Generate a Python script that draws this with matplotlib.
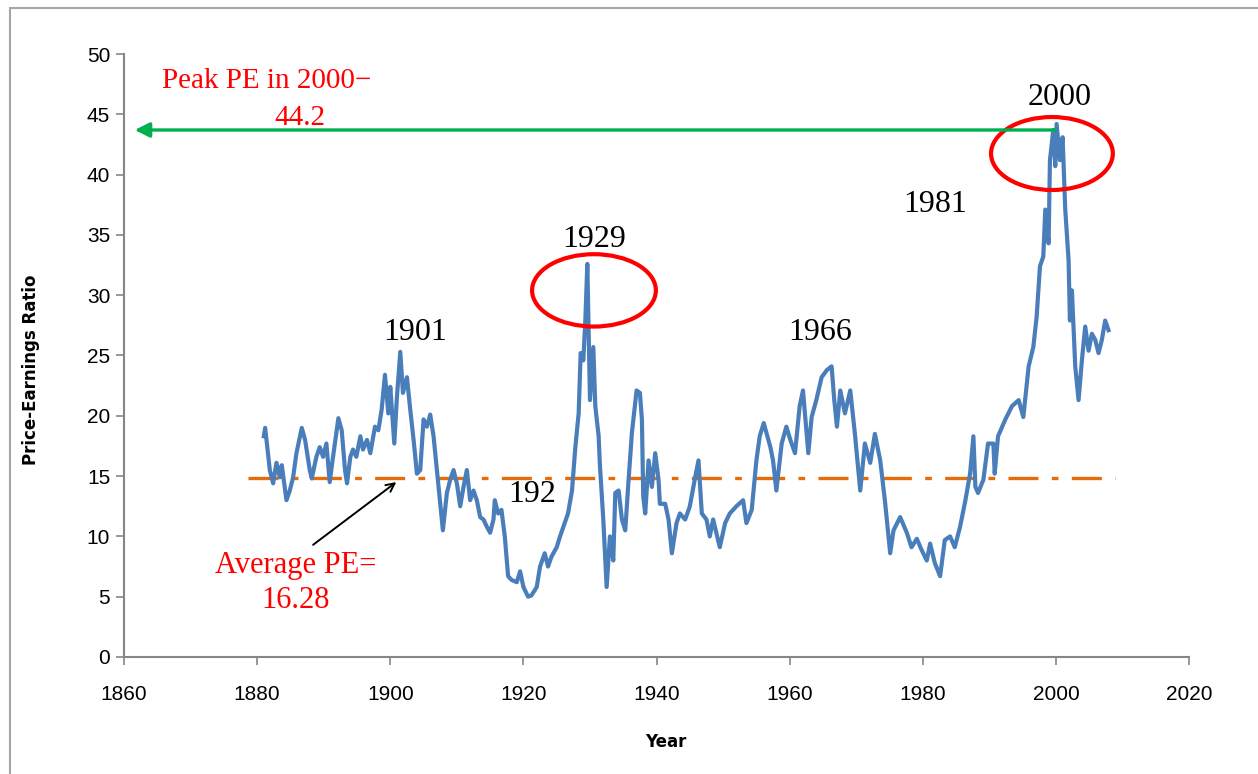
import matplotlib
matplotlib.use("Agg")
import matplotlib.pyplot as plt
from matplotlib.patches import Ellipse, FancyArrowPatch, Rectangle

# PE ratio (year, value)
years = [1881.0, 1881.2, 1881.9, 1882.4, 1882.9, 1883.4, 1883.7, 1884.4, 1884.9, 1885.4,
         1885.9, 1886.7, 1887.2, 1887.9, 1888.2, 1888.9, 1889.4, 1889.9, 1890.4, 1890.9,
         1891.4, 1892.2, 1892.7, 1893.2, 1893.5, 1894.0, 1894.4, 1894.9, 1895.5, 1895.9,
         1896.5, 1897.0, 1897.7, 1898.2, 1898.7, 1899.2, 1899.7, 1900.0, 1900.6, 1901.0,
         1901.5, 1901.9, 1902.5, 1903.0, 1903.5, 1904.0, 1904.5, 1905.0, 1905.5, 1906.0,
         1906.5, 1907.0, 1907.5, 1907.9, 1908.5, 1909.0, 1909.5, 1910.0, 1910.5, 1911.0,
         1911.5, 1912.0, 1912.5, 1913.0, 1913.5, 1914.0, 1914.5, 1915.0, 1915.5, 1915.7,
         1916.2, 1916.7, 1917.2, 1917.7, 1918.2, 1919.0, 1919.5, 1920.0, 1920.7, 1921.2,
         1922.0, 1922.5, 1923.2, 1923.7, 1924.2, 1925.0, 1925.5, 1926.2, 1926.7, 1927.3,
         1927.8, 1928.3, 1928.6, 1929.0, 1929.3, 1929.6, 1930.0, 1930.5, 1930.8, 1931.3,
         1931.5, 1932.0, 1932.5, 1933.0, 1933.5, 1933.8, 1934.3, 1934.8, 1935.3, 1935.8,
         1936.3, 1937.0, 1937.5, 1937.8, 1938.0, 1938.3, 1938.8, 1939.3, 1939.8, 1940.3,
         1940.5, 1941.3, 1941.8, 1942.3, 1943.0, 1943.5, 1944.3, 1945.0, 1945.8, 1946.3,
         1946.8, 1947.5, 1948.0, 1948.5, 1949.5, 1950.3, 1951.0, 1952.0, 1953.0, 1953.5,
         1954.3, 1955.0, 1955.5, 1956.1, 1957.1, 1957.5, 1958.0, 1958.8, 1959.5, 1960.1,
         1960.8, 1961.5, 1962.0, 1962.8, 1963.3, 1964.0, 1964.8, 1965.6, 1966.3, 1966.7,
         1967.1, 1967.6, 1968.3, 1969.1, 1969.8, 1970.6, 1971.3, 1972.1, 1972.8, 1973.6,
         1974.3, 1975.1, 1975.6, 1976.6, 1977.6, 1978.3, 1979.1, 1979.8, 1980.6, 1981.1,
         1981.8, 1982.6, 1983.3, 1984.1, 1984.8, 1985.6, 1986.4, 1987.1, 1987.6, 1987.9,
         1988.3, 1989.1, 1989.8, 1990.6, 1990.8, 1991.3, 1992.4, 1993.4, 1994.4, 1995.1,
         1995.9, 1996.6, 1997.1, 1997.6, 1998.1, 1998.4, 1998.9, 1999.1, 1999.6, 1999.9,
         2000.1, 2000.6, 2001.0, 2001.4, 2001.9, 2002.1, 2002.4, 2002.9, 2003.4, 2003.9,
         2004.4, 2004.9, 2005.4, 2005.9, 2006.4, 2006.9, 2007.4, 2007.9]
pe = [18.3, 19.0, 15.5, 14.4, 16.1, 14.9, 15.9, 13.0, 13.8, 14.9,
      16.9, 19.0, 18.0, 15.5, 14.8, 16.6, 17.4, 16.6, 17.7, 14.5,
      16.6, 19.8, 18.8, 15.5, 14.4, 16.6, 17.2, 16.6, 18.3, 17.2,
      18.0, 16.9, 19.1, 18.8, 20.5, 23.4, 20.2, 22.4, 17.7, 21.6,
      25.3, 21.9, 23.2, 20.5, 18.0, 15.2, 15.5, 19.7, 19.1, 20.1,
      18.3, 15.5, 12.7, 10.5, 13.6, 14.7, 15.5, 14.4, 12.5, 14.1,
      15.5, 13.0, 13.8, 13.0, 11.6, 11.4, 10.8, 10.3, 11.4, 13.0,
      11.9, 12.2, 10.0, 6.7, 6.4, 6.2, 7.1, 5.8, 5.0, 5.1,
      5.8, 7.5, 8.6, 7.5, 8.3, 9.1, 10.0, 11.1, 11.9, 13.8,
      17.4, 20.2, 25.2, 24.6, 27.9, 32.6, 21.3, 25.7, 20.8, 18.3,
      15.8, 11.4, 5.8, 10.0, 8.0, 13.6, 13.8, 11.4, 10.5, 14.7,
      18.6, 22.1, 21.9, 19.7, 13.3, 11.9, 16.3, 14.1, 16.9, 14.7,
      12.7, 12.7, 11.4, 8.6, 11.1, 11.9, 11.4, 12.5, 14.9, 16.3,
      11.9, 11.4, 10.0, 11.4, 9.1, 11.1, 11.9, 12.5, 13.0, 11.1,
      12.2, 16.3, 18.3, 19.4, 17.4, 16.3, 13.8, 17.7, 19.1, 18.0,
      16.9, 20.8, 22.1, 16.9, 19.9, 21.3, 23.2, 23.8, 24.1, 21.3,
      19.1, 22.1, 20.2, 22.1, 18.5, 13.8, 17.7, 16.1, 18.5, 16.3,
      13.0, 8.6, 10.5, 11.6, 10.3, 9.1, 9.8, 8.9, 8.0, 9.4,
      7.8, 6.7, 9.7, 10.0, 9.1, 10.8, 13.0, 15.2, 18.3, 14.1,
      13.6, 14.7, 17.7, 17.7, 15.2, 18.3, 19.7, 20.8, 21.3, 19.9,
      24.1, 25.7, 28.2, 32.4, 33.2, 37.1, 34.3, 41.2, 43.7, 40.7,
      44.2, 41.2, 43.1, 37.1, 32.9, 27.9, 30.4, 24.1, 21.3, 24.6,
      27.4, 25.4, 26.8, 26.3, 25.2, 26.3, 27.9, 27.1]

avg_line_years = [1878.6, 2008.9]
avg_line_level = 14.84
peak_level = 43.7
peak_arrow_years = [1999.9, 1861.6]

year_labels = ["1901", "1929", "192", "1966", "1981", "2000"]
year_label_pos = [(1903.7, 26.9), (1930.6, 34.6), (1921.3, 13.5),
                  (1964.6, 26.9), (1981.9, 37.5), (2000.6, 46.4)]

fig = plt.figure(figsize=(12.58, 7.74), dpi=100)
ax = fig.add_axes([0.0986, 0.1512, 0.8466, 0.779])

ax.plot(years, pe, color="#4A7EBB", lw=3.0, solid_joinstyle="round", zorder=3)
ax.plot(avg_line_years, [avg_line_level, avg_line_level], color="#E46C0A", lw=2.4,
        dashes=(9, 4, 2, 4), zorder=2)

ax.set_xlim(1860, 2020)
ax.set_ylim(0, 50)
ax.set_xticks(range(1860, 2021, 20))
ax.set_yticks(range(0, 51, 5))

for lab in ax.get_xticklabels() + ax.get_yticklabels():
    lab.set_family("Liberation Sans")
    lab.set_fontsize(15)
ax.tick_params(axis="both", direction="out", length=6, width=1.2, color="#868686")
ax.tick_params(axis="x", pad=14)
ax.tick_params(axis="y", pad=4)
for s in ["top", "right"]:
    ax.spines[s].set_visible(False)
for s in ["left", "bottom"]:
    ax.spines[s].set_color("#868686")
    ax.spines[s].set_linewidth(1.5)

ax.set_ylabel("Price-Earnings Ratio", fontsize=12, fontweight="bold")
ax.yaxis.set_label_coords(-0.079, 0.476)
ax.set_xlabel("Year", fontsize=12, fontweight="bold")
ax.xaxis.set_label_coords(0.509, -0.126)

serif = "Liberation Serif"
for txt, (x, y) in zip(year_labels, year_label_pos):
    ax.text(x, y, txt, fontsize=23, family=serif, ha="center", va="center", zorder=5)

ax.text(1865.7, 47.8, "Peak PE in 2000\u2212", fontsize=21, family=serif, color="red",
        ha="left", va="center")
ax.text(1886.4, 44.7, "44.2", fontsize=21, family=serif, color="red",
        ha="center", va="center")
ax.text(1885.8, 7.6, "Average PE=", fontsize=22, family=serif, color="red",
        ha="center", va="center")
ax.text(1885.8, 4.7, "16.28", fontsize=22, family=serif, color="red",
        ha="center", va="center")

# circles around the peaks
ax.add_patch(Ellipse((1930.6, 30.4), 18.6, 6.0, fill=False, ec="red", lw=3, zorder=4))
ax.add_patch(Ellipse((1999.4, 41.75), 18.3, 6.05, fill=False, ec="red", lw=3, zorder=4))

ax.add_patch(FancyArrowPatch((peak_arrow_years[0], peak_level), (peak_arrow_years[1], peak_level),
                             arrowstyle="-|>", mutation_scale=22, color="#00B050", lw=2.4,
                             shrinkA=0, shrinkB=0, zorder=6))
ax.add_patch(FancyArrowPatch((1888.4, 9.3), (1900.9, 14.5), arrowstyle="->",
                             mutation_scale=15, color="black", lw=1.4,
                             shrinkA=0, shrinkB=0, zorder=6))

# outer chart frame
fig.patches.append(Rectangle((10 / 1258, -0.1), 1.2, 1.1 - 8 / 774, transform=fig.transFigure,
                             fill=False, ec="#A6A6A6", lw=1.5))

fig.savefig("out.png", dpi=100)
